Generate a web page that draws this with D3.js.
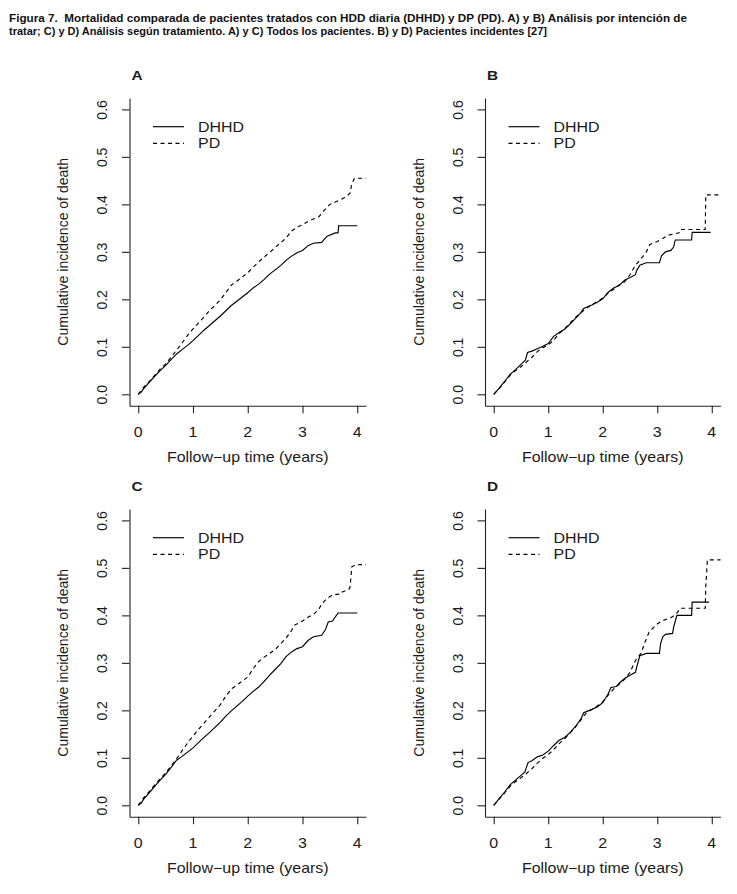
<!DOCTYPE html>
<html><head><meta charset="utf-8">
<script src="https://cdn.jsdelivr.net/npm/d3@7/dist/d3.min.js"></script>
<style>body{margin:0;background:#fff}svg{display:block}</style>
</head><body>
<svg id="c" width="737" height="894"></svg>
<script>
const titleLines = [
  "Figura 7.  Mortalidad comparada de pacientes tratados con HDD diaria (DHHD) y DP (PD). A) y B) Análisis por intención de",
  "tratar; C) y D) Análisis según tratamiento. A) y C) Todos los pacientes. B) y D) Pacientes incidentes [27]"
];
const panelLabels = ["A", "B", "C", "D"];
const seriesNames = ["DHHD", "PD"];
const xTicks = [0, 1, 2, 3, 4];
const yTicks = [0, 0.1, 0.2, 0.3, 0.4, 0.5, 0.6];
const xTitle = "Follow\u2212up time (years)";
const yTitle = "Cumulative incidence of death";

// [time (years), cumulative incidence]
const dhhdA = [[0,0],[0.05,0.004],[0.1,0.012],[0.2,0.025],[0.3,0.038],[0.4,0.050],[0.5,0.061],[0.6,0.073],[0.7,0.085],[0.8,0.094],[0.9,0.103],[1.0,0.113],[1.1,0.124],[1.2,0.135],[1.3,0.145],[1.4,0.155],[1.5,0.165],[1.6,0.176],[1.7,0.187],[1.8,0.196],[1.9,0.205],[2.0,0.214],[2.1,0.224],[2.2,0.232],[2.3,0.242],[2.4,0.253],[2.5,0.262],[2.6,0.271],[2.7,0.282],[2.8,0.291],[2.9,0.298],[3.0,0.303],[3.1,0.313],[3.2,0.318],[3.35,0.320],[3.4,0.327],[3.45,0.333],[3.6,0.340],[3.65,0.340],[3.66,0.355],[4.0,0.355]];
const pdA = [[0,0],[0.05,0.008],[0.1,0.015],[0.2,0.027],[0.3,0.040],[0.4,0.053],[0.5,0.064],[0.6,0.078],[0.7,0.093],[0.8,0.108],[0.9,0.124],[1.0,0.138],[1.1,0.150],[1.2,0.163],[1.3,0.176],[1.4,0.187],[1.5,0.199],[1.6,0.214],[1.7,0.230],[1.8,0.238],[1.9,0.247],[2.0,0.256],[2.1,0.268],[2.2,0.279],[2.3,0.289],[2.4,0.299],[2.5,0.309],[2.6,0.319],[2.7,0.329],[2.8,0.344],[2.9,0.352],[3.0,0.357],[3.1,0.364],[3.2,0.369],[3.3,0.374],[3.4,0.388],[3.5,0.400],[3.6,0.405],[3.7,0.410],[3.8,0.416],[3.87,0.424],[3.9,0.443],[3.95,0.455],[4.2,0.455]];
const dhhdB = [[0,0],[0.1,0.013],[0.2,0.027],[0.3,0.042],[0.4,0.052],[0.5,0.063],[0.58,0.072],[0.62,0.088],[0.7,0.091],[0.8,0.096],[0.9,0.101],[1.0,0.107],[1.1,0.122],[1.2,0.13],[1.3,0.137],[1.4,0.148],[1.5,0.16],[1.6,0.172],[1.65,0.181],[1.8,0.188],[1.9,0.194],[2.0,0.201],[2.1,0.215],[2.2,0.224],[2.3,0.229],[2.4,0.24],[2.5,0.246],[2.6,0.252],[2.62,0.26],[2.68,0.272],[2.8,0.277],[3.04,0.277],[3.08,0.292],[3.15,0.3],[3.25,0.303],[3.3,0.31],[3.33,0.325],[3.63,0.325],[3.64,0.341],[3.98,0.341]];
const pdB = [[0,0],[0.1,0.012],[0.2,0.026],[0.3,0.04],[0.4,0.05],[0.5,0.058],[0.6,0.068],[0.7,0.078],[0.8,0.09],[0.9,0.098],[1.0,0.104],[1.1,0.114],[1.2,0.128],[1.3,0.138],[1.4,0.15],[1.5,0.162],[1.6,0.172],[1.7,0.181],[1.8,0.189],[1.9,0.195],[2.0,0.203],[2.1,0.213],[2.2,0.221],[2.3,0.23],[2.4,0.237],[2.5,0.252],[2.6,0.272],[2.7,0.285],[2.8,0.3],[2.86,0.315],[3.0,0.322],[3.1,0.328],[3.2,0.335],[3.4,0.34],[3.42,0.347],[3.88,0.347],[3.89,0.42],[4.2,0.42]];
const dhhdC = [[0,0],[0.05,0.004],[0.1,0.013],[0.2,0.026],[0.3,0.04],[0.4,0.053],[0.5,0.065],[0.6,0.08],[0.7,0.095],[0.8,0.103],[0.9,0.112],[1.0,0.121],[1.1,0.132],[1.2,0.143],[1.3,0.153],[1.4,0.164],[1.5,0.175],[1.6,0.188],[1.7,0.199],[1.8,0.209],[1.9,0.219],[2.0,0.23],[2.1,0.24],[2.2,0.249],[2.3,0.261],[2.4,0.274],[2.5,0.286],[2.6,0.298],[2.7,0.313],[2.8,0.323],[2.9,0.33],[3.0,0.334],[3.1,0.347],[3.2,0.355],[3.35,0.358],[3.42,0.37],[3.47,0.386],[3.55,0.388],[3.6,0.397],[3.65,0.405],[4.0,0.405]];
const pdC = [[0,0],[0.05,0.008],[0.1,0.016],[0.2,0.029],[0.3,0.043],[0.4,0.056],[0.5,0.068],[0.6,0.083],[0.7,0.098],[0.8,0.115],[0.9,0.131],[1.0,0.146],[1.1,0.16],[1.2,0.173],[1.3,0.186],[1.4,0.199],[1.5,0.212],[1.6,0.23],[1.7,0.245],[1.8,0.253],[1.9,0.262],[2.0,0.27],[2.1,0.288],[2.2,0.303],[2.3,0.312],[2.4,0.32],[2.5,0.328],[2.6,0.34],[2.7,0.352],[2.8,0.368],[2.85,0.379],[3.0,0.388],[3.1,0.396],[3.2,0.402],[3.3,0.413],[3.35,0.424],[3.45,0.436],[3.55,0.443],[3.7,0.445],[3.72,0.449],[3.85,0.455],[3.87,0.46],[3.9,0.502],[3.97,0.507],[4.2,0.507]];
const dhhdD = [[0,0],[0.1,0.014],[0.2,0.028],[0.3,0.043],[0.4,0.053],[0.5,0.063],[0.57,0.07],[0.63,0.09],[0.7,0.094],[0.8,0.102],[0.9,0.106],[1.0,0.114],[1.1,0.126],[1.2,0.137],[1.3,0.143],[1.4,0.153],[1.5,0.166],[1.6,0.182],[1.65,0.195],[1.8,0.202],[1.9,0.207],[2.0,0.216],[2.1,0.235],[2.15,0.248],[2.25,0.25],[2.3,0.257],[2.4,0.267],[2.5,0.274],[2.6,0.28],[2.62,0.29],[2.68,0.315],[2.8,0.32],[3.04,0.32],[3.06,0.34],[3.1,0.355],[3.15,0.36],[3.28,0.362],[3.3,0.375],[3.36,0.4],[3.63,0.4],[3.64,0.428],[3.95,0.428]];
const pdD = [[0,0],[0.1,0.013],[0.2,0.026],[0.3,0.04],[0.4,0.05],[0.5,0.058],[0.6,0.067],[0.7,0.077],[0.8,0.089],[0.9,0.099],[1.0,0.107],[1.1,0.117],[1.2,0.13],[1.3,0.14],[1.4,0.152],[1.5,0.165],[1.6,0.18],[1.7,0.195],[1.8,0.202],[1.9,0.209],[2.0,0.218],[2.1,0.232],[2.2,0.245],[2.3,0.255],[2.4,0.265],[2.5,0.28],[2.6,0.305],[2.7,0.32],[2.78,0.345],[2.85,0.365],[3.0,0.382],[3.1,0.389],[3.25,0.395],[3.35,0.403],[3.42,0.415],[3.88,0.415],[3.89,0.46],[3.92,0.517],[4.2,0.517]];

const panelData = [[dhhdA, pdA], [dhhdB, pdB], [dhhdC, pdC], [dhhdD, pdD]];

// layout
const boxes = [
  {left: 129.5, right: 366, top: 98, bottom: 405.7},
  {left: 485, right: 720.5, top: 98, bottom: 405.7},
  {left: 129.5, right: 366, top: 509, bottom: 816.7},
  {left: 485, right: 720.5, top: 509, bottom: 816.7}
];
const FONT = "'Liberation Sans', Arial, Helvetica, sans-serif";
const TXT = "#1a1a1a";
const HS = 1.14; // horizontal stretch of reference text
const dashes = [null, "4,3.5"];

const svg = d3.select("#c");
svg.append("rect").attr("width", 737).attr("height", 894).attr("fill", "#fff");

// Title
const titleLens = [678, 538];
titleLines.forEach((t, i) => {
  svg.append("text")
    .attr("x", 9).attr("y", 21.5 + i * 13.5)
    .attr("font-family", "'Liberation Sans Narrow', 'Liberation Sans', sans-serif")
    .attr("font-weight", 700).attr("font-size", 11.5)
    .style("white-space", "pre")
    .attr("textLength", titleLens[i]).attr("lengthAdjust", "spacingAndGlyphs")
    .attr("fill", "#111").text(t);
});

function htext(g, x, y, str, opts) {
  const t = g.append("text")
    .attr("transform", `translate(${x},${y}) scale(${HS},1)`)
    .attr("font-family", FONT).attr("font-size", opts.size || 14)
    .attr("fill", TXT)
    .attr("text-anchor", opts.anchor || "middle")
    .attr("dy", opts.dy || "0.35em")
    .text(str);
  if (opts.bold) t.attr("font-weight", 700);
  return t;
}

boxes.forEach((b, pi) => {
  const x = d3.scaleLinear().domain([-0.16, 4.16]).range([b.left, b.right]);
  const y = d3.scaleLinear().domain([-0.024, 0.624]).range([b.bottom, b.top]);
  const g = svg.append("g");

  // clip
  const cid = "clip" + pi;
  svg.append("clipPath").attr("id", cid).append("rect")
    .attr("x", b.left).attr("y", b.top).attr("width", b.right - b.left).attr("height", b.bottom - b.top);

  // y axis
  const ya = g.append("g").attr("transform", `translate(${b.left},0)`)
    .call(d3.axisLeft(y).tickValues(yTicks).tickSize(7.5).tickSizeOuter(0).tickFormat(d3.format(".1f")));
  ya.select(".domain").attr("stroke", "#222").attr("stroke-width", 1.1);
  ya.selectAll(".tick line").attr("stroke", "#222").attr("stroke-width", 1.1);
  ya.selectAll(".tick text")
    .attr("x", null).attr("dy", "0.35em")
    .attr("transform", "translate(-27,0) rotate(-90)")
    .attr("text-anchor", "middle")
    .attr("font-family", FONT).attr("font-size", 14).attr("fill", TXT);

  // x axis
  const xa = g.append("g").attr("transform", `translate(0,${b.bottom})`)
    .call(d3.axisBottom(x).tickValues(xTicks).tickSize(7.5).tickSizeOuter(0).tickFormat(d3.format("d")));
  xa.select(".domain").attr("stroke", "#222").attr("stroke-width", 1.1);
  xa.selectAll(".tick line").attr("stroke", "#222").attr("stroke-width", 1.1);
  xa.selectAll(".tick text").remove();
  xTicks.forEach(v => htext(g, x(v), b.bottom + 26, String(v), {}));

  // axis titles
  htext(g, (b.left + b.right) / 2, b.bottom + 51, xTitle, {});
  g.append("text")
    .attr("transform", `translate(${b.left - 66},${(b.top + b.bottom) / 2}) rotate(-90)`)
    .attr("text-anchor", "middle").attr("dy", "0.35em")
    .attr("font-family", FONT).attr("font-size", 14).attr("fill", TXT)
    .text(yTitle);

  // panel label
  htext(g, b.left + 2, b.top - 23, panelLabels[pi], {anchor: "start", bold: true, size: 13.5});

  // curves
  const line = d3.line().x(d => x(d[0])).y(d => y(d[1]));
  panelData[pi].forEach((s, si) => {
    const p = g.append("path").datum(s)
      .attr("clip-path", `url(#${cid})`)
      .attr("fill", "none").attr("stroke", "#000").attr("stroke-width", 1.15)
      .attr("stroke-linejoin", "miter")
      .attr("d", line);
    if (dashes[si]) p.attr("stroke-dasharray", dashes[si]);
  });

  // legend
  seriesNames.forEach((n, si) => {
    const ly = b.top + 28.7 + si * 16.6;
    const l = g.append("line")
      .attr("x1", b.left + 23.5).attr("x2", b.left + 54.5)
      .attr("y1", ly).attr("y2", ly)
      .attr("stroke", "#000").attr("stroke-width", 1.15);
    if (dashes[si]) l.attr("stroke-dasharray", dashes[si]);
    htext(g, b.left + 68.5, ly, n, {anchor: "start"});
  });
});
</script>
</body></html>
